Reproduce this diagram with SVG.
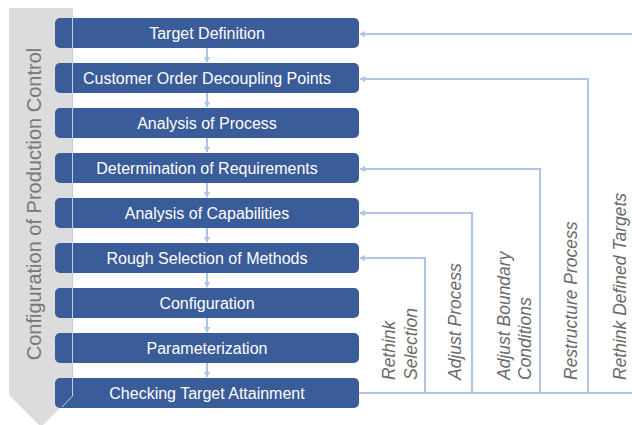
<svg xmlns="http://www.w3.org/2000/svg" width="632" height="425" viewBox="0 0 632 425">
<style>
.box{fill:#3A5C99;}
.bt{font-family:"Liberation Sans",Arial,sans-serif;font-size:16px;fill:#ffffff;text-anchor:middle;}
.lbl{font-family:"Liberation Sans",Arial,sans-serif;font-size:17.5px;font-style:italic;fill:#6a6a6a;text-anchor:start;}
.con{fill:none;stroke:#AFC3E6;stroke-width:2;}
.title{font-family:"Liberation Sans",Arial,sans-serif;font-size:20px;fill:#777777;text-anchor:middle;}
</style>
<defs>
<marker id="ah" markerWidth="6" markerHeight="6" refX="5" refY="3" orient="auto" markerUnits="userSpaceOnUse">
<path d="M0,0 L6,3 L0,6 Z" fill="#AFC3E6"/>
</marker>
</defs>
<g id="band">
<path d="M9,8 H73 V395 L41,427 L9,395 Z" fill="#DCDCDC"/>
<text class="title" transform="translate(41,204) rotate(-90)">Configuration of Production Control</text>
</g>
<g id="nodes">
<g id="n1"><rect class="box" x="55" y="18" width="304" height="30" rx="5"/><text class="bt" x="207" y="39">Target Definition</text></g>
<g id="n2"><rect class="box" x="55" y="63" width="304" height="30" rx="5"/><text class="bt" x="207" y="84">Customer Order Decoupling Points</text></g>
<g id="n3"><rect class="box" x="55" y="108" width="304" height="30" rx="5"/><text class="bt" x="207" y="129">Analysis of Process</text></g>
<g id="n4"><rect class="box" x="55" y="153" width="304" height="30" rx="5"/><text class="bt" x="207" y="174">Determination of Requirements</text></g>
<g id="n5"><rect class="box" x="55" y="198" width="304" height="30" rx="5"/><text class="bt" x="207" y="219">Analysis of Capabilities</text></g>
<g id="n6"><rect class="box" x="55" y="243" width="304" height="30" rx="5"/><text class="bt" x="207" y="264">Rough Selection of Methods</text></g>
<g id="n7"><rect class="box" x="55" y="288" width="304" height="30" rx="5"/><text class="bt" x="207" y="309">Configuration</text></g>
<g id="n8"><rect class="box" x="55" y="333" width="304" height="30" rx="5"/><text class="bt" x="207" y="354">Parameterization</text></g>
<g id="n9"><rect class="box" x="55" y="378" width="304" height="30" rx="5"/><text class="bt" x="207" y="399">Checking Target Attainment</text></g>
</g>
<g id="bandedge">
<path d="M72.5,18 V396 L62,407" fill="none" stroke="#C3CCE0" stroke-width="1"/>
</g>
<g id="connectors">
<path class="con" d="M207,48 V62" marker-end="url(#ah)"/>
<path class="con" d="M207,93 V107" marker-end="url(#ah)"/>
<path class="con" d="M207,138 V152" marker-end="url(#ah)"/>
<path class="con" d="M207,183 V197" marker-end="url(#ah)"/>
<path class="con" d="M207,228 V242" marker-end="url(#ah)"/>
<path class="con" d="M207,273 V287" marker-end="url(#ah)"/>
<path class="con" d="M207,318 V332" marker-end="url(#ah)"/>
<path class="con" d="M207,363 V377" marker-end="url(#ah)"/>
<path class="con" d="M359,393 H632"/>
<path class="con" d="M632,34 H360" marker-end="url(#ah)"/>
<path class="con" d="M588,393 V79 H360" marker-end="url(#ah)"/>
<path class="con" d="M540,393 V169 H360" marker-end="url(#ah)"/>
<path class="con" d="M472,393 V213 H360" marker-end="url(#ah)"/>
<path class="con" d="M425,393 V258 H360" marker-end="url(#ah)"/>
</g>
<g id="labels">
<text class="lbl" transform="translate(394.5,380) rotate(-90)">Rethink</text>
<text class="lbl" transform="translate(416.5,380) rotate(-90)">Selection</text>
<text class="lbl" transform="translate(460.5,380) rotate(-90)">Adjust Process</text>
<text class="lbl" transform="translate(510,380) rotate(-90)">Adjust Boundary</text>
<text class="lbl" transform="translate(531,380) rotate(-90)">Conditions</text>
<text class="lbl" transform="translate(577,380) rotate(-90)">Restructure Process</text>
<text class="lbl" transform="translate(626,380) rotate(-90)">Rethink Defined Targets</text>
</g>
</svg>
